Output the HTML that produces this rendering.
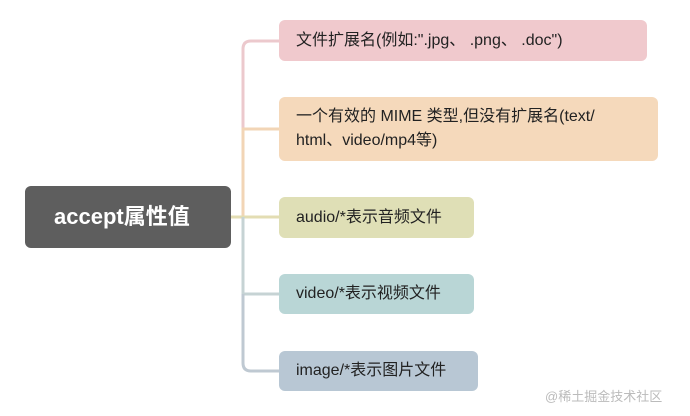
<!DOCTYPE html>
<html><head><meta charset="utf-8"><style>
body{margin:0;width:690px;height:416px;background:#fff;position:relative;overflow:hidden;font-family:"Liberation Sans","Noto Sans CJK SC",sans-serif;}
.b{position:absolute;border-radius:6px;color:#222;font-size:16px;box-sizing:border-box;padding-left:17px;display:flex;align-items:center;line-height:24px;}
</style></head><body>
<svg width="690" height="416" style="position:absolute;left:0;top:0">
<path d="M279 41 H251 Q243 41 243 49 V140" stroke="#ecc9cd" stroke-width="3" fill="none"/>
<path d="M279 129 H243 V217" stroke="#f2d5b6" stroke-width="3" fill="none"/>
<path d="M231 217 H279" stroke="#e3ddb3" stroke-width="3" fill="none"/>
<path d="M243 217 V294 H279" stroke="#c6d3d4" stroke-width="3" fill="none"/>
<path d="M243 294 V363 Q243 371 251 371 H279" stroke="#bfc9d2" stroke-width="3" fill="none"/>
</svg>
<div class="b" style="left:25px;top:186px;width:206px;height:62px;background:#5e5e5e;color:#fff;font-weight:bold;font-size:22px;padding-left:29px;">accept属性值</div>
<div class="b" style="left:279px;top:20px;width:368px;height:41px;background:#f0c9cd;">文件扩展名(例如:".jpg、 .png、 .doc")</div>
<div class="b" style="left:279px;top:97px;width:379px;height:64px;background:#f5d9bb;">一个有效的 MIME 类型,但没有扩展名(text/<br>html、video/mp4等)</div>
<div class="b" style="left:279px;top:197px;width:195px;height:41px;background:#dfdfb6;">audio/*表示音频文件</div>
<div class="b" style="left:279px;top:274px;width:195px;height:40px;background:#b9d6d6;">video/*表示视频文件</div>
<div class="b" style="left:279px;top:351px;width:199px;height:40px;background:#b8c7d4;">image/*表示图片文件</div>
<div style="position:absolute;left:545px;top:386px;font-size:13px;color:#bbb;">@稀土掘金技术社区</div>
</body></html>
